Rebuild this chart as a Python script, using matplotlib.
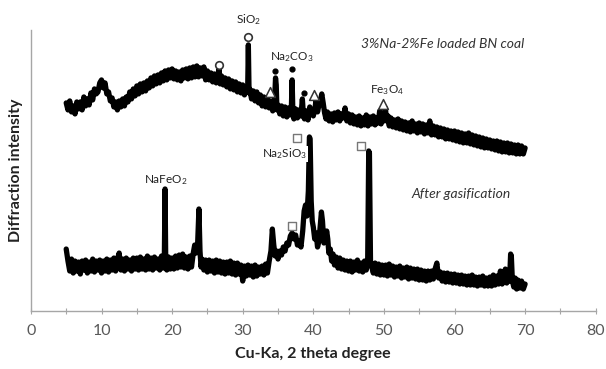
import matplotlib
matplotlib.use("Agg")
import matplotlib.pyplot as plt
from matplotlib.ticker import MultipleLocator

plt.rcParams['font.family'] = ['Lato', 'DejaVu Sans']
plt.rcParams['mathtext.fontset'] = 'custom'
plt.rcParams['mathtext.rm'] = 'Lato'
plt.rcParams['mathtext.it'] = 'Lato:italic'
plt.rcParams['mathtext.bf'] = 'Lato:bold'

# Top pattern: 3%Na-2%Fe loaded BN coal (arbitrary intensity units)
top_x = [5.0, 5.25, 5.5, 5.75, 6.0, 6.25, 6.5, 6.75, 7.0, 7.25, 7.5, 7.75, 8.0, 8.25, 8.5, 8.75, 9.0, 9.25, 9.5, 9.75,
         10.0, 10.25, 10.5, 10.75, 11.0, 11.25, 11.5, 11.75, 12.0, 12.25, 12.5, 12.75, 13.0, 13.25, 13.5, 13.75, 14.0, 14.25, 14.5, 14.75,
         15.0, 15.25, 15.5, 15.75, 16.0, 16.25, 16.5, 16.75, 17.0, 17.25, 17.5, 17.75, 18.0, 18.25, 18.5, 18.75, 19.0, 19.25, 19.5, 19.75,
         20.0, 20.25, 20.5, 20.75, 21.0, 21.25, 21.5, 21.75, 22.0, 22.25, 22.5, 22.75, 23.0, 23.25, 23.5, 23.75, 24.0, 24.25, 24.5, 24.75,
         25.0, 25.25, 25.5, 25.75, 26.0, 26.25, 26.5, 26.65, 26.8, 27.0, 27.25, 27.5, 27.75, 28.0, 28.25, 28.5, 28.75, 29.0, 29.25, 29.5, 29.75,
         30.0, 30.25, 30.5, 30.7, 30.8, 30.9, 31.0, 31.25, 31.5, 31.75, 32.0, 32.25, 32.5, 32.75, 33.0, 33.25, 33.5, 33.75, 34.0, 34.25, 34.5, 34.65, 34.75, 34.85,
         35.0, 35.25, 35.5, 35.75, 36.0, 36.25, 36.5, 36.75, 36.9, 37.0, 37.1, 37.25, 37.5, 37.75, 38.0, 38.25, 38.45, 38.6, 38.75, 39.0, 39.25, 39.5, 39.75,
         40.0, 40.25, 40.4, 40.6, 40.8, 41.0, 41.2, 41.4, 41.6, 41.8, 42.0, 42.25, 42.5, 42.75, 43.0, 43.25, 43.5, 43.75, 44.0, 44.25, 44.5, 44.75,
         45.0, 45.25, 45.5, 45.75, 46.0, 46.25, 46.5, 46.75, 47.0, 47.25, 47.5, 47.75, 48.0, 48.25, 48.5, 48.75, 49.0, 49.2, 49.4, 49.6, 49.8,
         50.0, 50.2, 50.4, 50.6, 50.75, 51.0, 51.25, 51.5, 51.75, 52.0, 52.25, 52.5, 52.75, 53.0, 53.25, 53.5, 53.75, 54.0, 54.25, 54.5, 54.75,
         55.0, 55.25, 55.5, 55.75, 56.0, 56.25, 56.5, 56.75, 57.0, 57.25, 57.5, 57.75, 58.0, 58.25, 58.5, 58.75, 59.0, 59.25, 59.5, 59.75,
         60.0, 60.25, 60.5, 60.75, 61.0, 61.25, 61.5, 61.75, 62.0, 62.25, 62.5, 62.75, 63.0, 63.25, 63.5, 63.75, 64.0, 64.25, 64.5, 64.75,
         65.0, 65.25, 65.5, 65.75, 66.0, 66.25, 66.5, 66.75, 67.0, 67.25, 67.5, 67.75, 68.0, 68.25, 68.5, 68.75, 69.0, 69.25, 69.5, 69.75, 70.0]
top_y = [208, 201, 210, 199, 205, 197, 209, 202, 209, 201, 214, 205, 212, 206, 218, 211, 222, 217, 219, 228,
         231, 223, 228, 217, 219, 210, 213, 204, 209, 201, 210, 204, 212, 205, 214, 209, 219, 212, 222, 215,
         225, 217, 227, 219, 228, 220, 230, 223, 233, 225, 235, 227, 236, 228, 238, 230, 240, 231, 241, 233,
         242, 232, 240, 231, 239, 230, 241, 233, 242, 232, 243, 233, 244, 234, 245, 234, 243, 235, 244, 231,
         240, 231, 238, 229, 237, 228, 235, 242, 227, 235, 226, 233, 224, 232, 222, 230, 221, 229, 219, 227, 218,
         226, 216, 224, 220, 266, 218, 222, 212, 220, 210, 219, 208, 216, 205, 214, 204, 212, 203, 210, 200, 207, 233, 226, 201,
         206, 197, 205, 195, 204, 194, 203, 196, 205, 231, 200, 192, 202, 193, 201, 195, 212, 196, 192, 200, 191, 204, 198,
         195, 203, 212, 199, 206, 210, 217, 208, 198, 192, 199, 190, 197, 189, 198, 191, 199, 190, 197, 193, 203, 190,
         197, 188, 196, 187, 194, 186, 195, 185, 193, 186, 196, 185, 194, 187, 195, 186, 193, 188, 200, 187, 192,
         190, 203, 190, 195, 185, 193, 184, 191, 183, 192, 182, 190, 181, 189, 180, 188, 179, 190, 180, 187, 178,
         188, 179, 187, 177, 186, 178, 190, 176, 185, 176, 184, 174, 183, 174, 182, 172, 181, 172, 180, 171,
         180, 170, 179, 169, 178, 168, 177, 168, 178, 167, 176, 166, 175, 165, 174, 164, 173, 163, 172, 163,
         171, 162, 170, 161, 170, 160, 169, 159, 168, 159, 168, 158, 167, 158, 166, 157, 166, 157, 165, 157, 163]

# Bottom pattern: after gasification
bot_x = [5.0, 5.25, 5.5, 5.75, 6.0, 6.25, 6.5, 6.75, 7.0, 7.25, 7.5, 7.75, 8.0, 8.25, 8.5, 8.75, 9.0, 9.25, 9.5, 9.75,
         10.0, 10.25, 10.5, 10.75, 11.0, 11.25, 11.5, 11.75, 12.0, 12.25, 12.5, 12.75, 13.0, 13.25, 13.5, 13.75, 14.0, 14.25, 14.5, 14.75,
         15.0, 15.25, 15.5, 15.75, 16.0, 16.25, 16.5, 16.75, 17.0, 17.25, 17.5, 17.75, 18.0, 18.25, 18.5, 18.75, 18.9, 19.0, 19.1, 19.25, 19.5, 19.75,
         20.0, 20.25, 20.5, 20.75, 21.0, 21.25, 21.5, 21.75, 22.0, 22.25, 22.5, 22.75, 23.0, 23.2, 23.4, 23.6, 23.8, 23.95, 24.1, 24.25, 24.5, 24.75,
         25.0, 25.25, 25.5, 25.75, 26.0, 26.25, 26.5, 26.75, 27.0, 27.25, 27.5, 27.75, 28.0, 28.25, 28.5, 28.75, 29.0, 29.25, 29.5, 29.75,
         30.0, 30.25, 30.5, 30.75, 31.0, 31.25, 31.5, 31.75, 32.0, 32.25, 32.5, 32.75, 33.0, 33.25, 33.5, 33.75, 34.0, 34.2, 34.4, 34.6, 34.8,
         35.0, 35.25, 35.5, 35.75, 36.0, 36.25, 36.5, 36.75, 37.0, 37.25, 37.5, 37.75, 38.0, 38.25, 38.5, 38.7, 38.9, 39.1, 39.3, 39.45, 39.55, 39.7, 39.85,
         40.0, 40.2, 40.4, 40.6, 40.8, 41.0, 41.15, 41.3, 41.5, 41.7, 41.9, 42.05, 42.2, 42.4, 42.6, 42.8, 43.0, 43.25, 43.5, 43.75, 44.0, 44.25, 44.5, 44.75,
         45.0, 45.25, 45.5, 45.75, 46.0, 46.25, 46.5, 46.75, 47.0, 47.25, 47.5, 47.7, 47.85, 47.95, 48.1, 48.25, 48.5, 48.75, 49.0, 49.25, 49.5, 49.75,
         50.0, 50.25, 50.5, 50.75, 51.0, 51.25, 51.5, 51.75, 52.0, 52.25, 52.5, 52.75, 53.0, 53.25, 53.5, 53.75, 54.0, 54.25, 54.5, 54.75,
         55.0, 55.25, 55.5, 55.75, 56.0, 56.25, 56.5, 56.75, 57.0, 57.25, 57.5, 57.75, 58.0, 58.25, 58.5, 58.75, 59.0, 59.25, 59.5, 59.75,
         60.0, 60.25, 60.5, 60.75, 61.0, 61.25, 61.5, 61.75, 62.0, 62.25, 62.5, 62.75, 63.0, 63.25, 63.5, 63.75, 64.0, 64.25, 64.5, 64.75,
         65.0, 65.25, 65.5, 65.75, 66.0, 66.25, 66.5, 66.75, 67.0, 67.2, 67.4, 67.6, 67.8, 67.95, 68.05, 68.2, 68.4, 68.6, 68.8, 69.0, 69.25, 69.5, 69.75, 70.0]
bot_y = [62, 50, 40, 52, 38, 50, 40, 49, 37, 50, 41, 51, 38, 49, 40, 52, 39, 50, 41, 51,
         38, 50, 40, 52, 39, 51, 41, 53, 40, 52, 58, 41, 52, 40, 53, 42, 51, 40, 53, 42,
         53, 41, 54, 42, 52, 41, 55, 42, 53, 41, 54, 43, 52, 41, 55, 43, 52, 122, 48, 41, 54, 42,
         53, 42, 55, 43, 56, 44, 57, 43, 54, 42, 55, 44, 58, 66, 58, 64, 102, 60, 44, 52, 41, 51,
         39, 51, 40, 50, 38, 51, 39, 50, 38, 49, 37, 49, 38, 50, 37, 48, 36, 48, 37, 46,
         30, 45, 35, 46, 36, 45, 34, 46, 35, 44, 37, 45, 36, 47, 38, 50, 60, 82, 66, 55, 60,
         52, 60, 56, 64, 60, 68, 66, 75, 78, 72, 76, 66, 70, 64, 80, 100, 106, 95, 120, 174, 172, 110, 90,
         84, 72, 78, 64, 70, 86, 99, 90, 68, 74, 80, 72, 58, 62, 50, 57, 46, 54, 43, 53, 42, 51, 41, 50,
         40, 50, 39, 49, 41, 51, 40, 48, 39, 50, 41, 48, 160, 158, 50, 45, 38, 48, 37, 47, 36, 46,
         36, 46, 35, 47, 36, 45, 34, 44, 35, 45, 33, 43, 34, 44, 32, 43, 33, 42, 32, 42,
         31, 41, 31, 40, 30, 40, 31, 40, 32, 42, 48, 33, 39, 30, 38, 29, 38, 29, 37, 28,
         37, 28, 36, 27, 36, 27, 35, 26, 35, 26, 36, 26, 34, 25, 34, 26, 35, 25, 33, 25,
         34, 25, 36, 26, 35, 27, 40, 27, 34, 42, 28, 35, 30, 57, 55, 30, 24, 33, 22, 31, 23, 30, 22, 27]

# Phase markers
circle_x = [26.6, 30.8]
circle_y = [246, 274]
dot_x = [34.6, 37.0, 38.7]
dot_y = [240, 242, 218]
tri_x = [33.8, 40.1, 49.9]
tri_y = [219, 216, 207]
square_x = [37.7, 46.8, 37.0]
square_y = [173, 165, 85]

fig = plt.figure(figsize=(6.06, 3.69), dpi=100)
ax = fig.add_axes([0.051, 0.157, 0.932, 0.762])

ax.plot(top_x, top_y, color='black', lw=3.8, solid_joinstyle='round', solid_capstyle='round')
ax.plot(bot_x, bot_y, color='black', lw=3.8, solid_joinstyle='round', solid_capstyle='round')

ax.scatter(circle_x, circle_y, marker='o', s=30, facecolors='white', edgecolors='#333333', lw=1.2, zorder=5, clip_on=False)
ax.scatter(dot_x, dot_y, marker='o', s=12, color='black', zorder=5)
ax.scatter(tri_x, tri_y, marker='^', s=50, facecolors='white', edgecolors='#333333', lw=1.1, zorder=5)
ax.scatter(square_x, square_y, marker='s', s=38, facecolors='white', edgecolors='#777777', lw=1.0, zorder=5)

lab = dict(fontsize=8.5, color='#222222', ha='center', va='center')
ax.text(30.8, 291, 'SiO$_2$', clip_on=False, **lab)
ax.text(37.0, 254, 'Na$_2$CO$_3$', **lab)
ax.text(50.4, 221, 'Fe$_3$O$_4$', **lab)
ax.text(35.9, 157, 'Na$_2$SiO$_3$', bbox=dict(facecolor='white', edgecolor='none', pad=0.5), **lab)
ax.text(19.1, 131, 'NaFeO$_2$', **lab)

ax.text(58.3, 267, '3%Na-2%Fe loaded BN coal', fontsize=10, style='italic', color='#333333', ha='center', va='center')
ax.text(60.9, 117, 'After gasification', fontsize=10, style='italic', color='#333333', ha='center', va='center')

ax.set_xlim(0, 80)
ax.set_ylim(0, 281)
ax.set_yticks([])
ax.xaxis.set_major_locator(MultipleLocator(10))
ax.xaxis.set_minor_locator(MultipleLocator(5))
ax.tick_params(axis='x', which='both', direction='inout', length=5, color='#a6a6a6', width=0.8)
ax.tick_params(axis='x', which='major', labelsize=11.5, labelcolor='#595959', pad=7)
for s in ['top', 'right']:
    ax.spines[s].set_visible(False)
for s in ['left', 'bottom']:
    ax.spines[s].set_color('#a6a6a6')
    ax.spines[s].set_linewidth(1.0)

ax.set_xlabel('Cu-Ka, 2 theta degree', fontsize=11.5, fontweight='bold', color='#222222', labelpad=6)
ax.set_ylabel('Diffraction intensity', fontsize=11.5, fontweight='bold', color='#222222', labelpad=6)

fig.savefig('out.png', dpi=100)
